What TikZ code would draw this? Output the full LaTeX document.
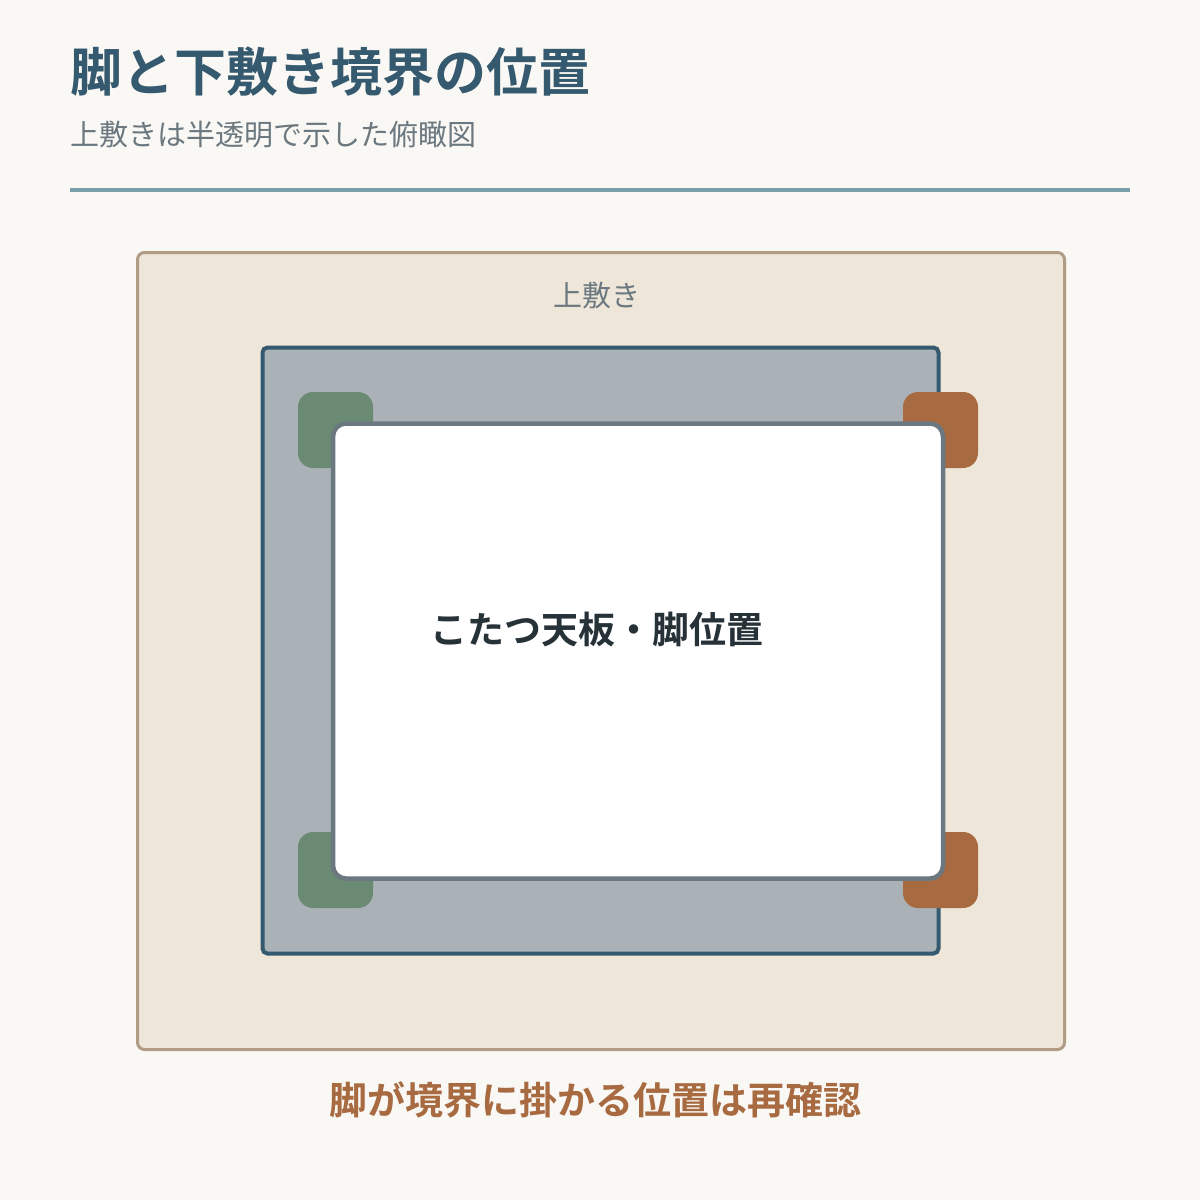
\documentclass[tikz,border=0pt]{standalone}
\usepackage{fontspec}
\setmainfont{Noto Sans CJK JP}
\newfontfamily\jpbold{Noto Sans CJK JP Bold}
\definecolor{pagebg}{HTML}{FAF8F4}
\definecolor{titleblue}{HTML}{35596E}
\definecolor{subgray}{HTML}{6B7880}
\definecolor{rulecol}{HTML}{7A9EAA}
\definecolor{upperfill}{HTML}{EFE6DA}
\definecolor{upperline}{HTML}{B09C85}
\definecolor{lowerfill}{HTML}{AAB2B8}
\definecolor{leggreen}{HTML}{6B8A73}
\definecolor{legorange}{HTML}{A86A40}
\definecolor{textdark}{HTML}{263238}
\begin{document}
\begin{tikzpicture}[
    x = 1pt, y = -1pt,
    sheet/.style = {
        draw,
        rectangle,
        inner sep = 0pt,
        outer sep = 0pt,
        anchor = north west
    },
    uppersheet/.style = {sheet, fill = upperfill, draw = upperline, line width = 3pt, rounded corners = 7pt},
    lowersheet/.style = {sheet, fill = lowerfill, draw = titleblue, line width = 4pt, rounded corners = 5pt},
    leg/.style = {sheet, draw = none, minimum width = 75pt, minimum height = 76pt, rounded corners = 15pt},
    leggreen/.style = {leg, fill = leggreen},
    legorange/.style = {leg, fill = legorange},
    tabletop/.style = {sheet, fill = white, draw = subgray, line width = 4.5pt, rounded corners = 13pt},
    label/.style = {
        inner sep = 0pt,
        align = center
    }
]

% page and margins
\fill[pagebg] (0, 0) rectangle (1200, 1200);
\useasboundingbox (0, 0) rectangle (1200, 1200);

% Heading
\node[label, anchor = base west, text = titleblue] (title) at (70, 91) {
    \jpbold\fontsize{52}{60}\selectfont 脚と下敷き境界の位置
};
\node[label, anchor = base west, text = subgray] (subtitle) at (70, 145) {
    \fontsize{29}{35}\selectfont 上敷きは半透明で示した俯瞰図
};
\coordinate (rule west) at (70, 190);
\coordinate (rule east) at (1130, 190);
\draw[rulecol, line width = 4.5pt] (rule west) -- (rule east);

% Upper sheet
\node[uppersheet, minimum width = 927pt, minimum height = 797pt] (upper) at (137.5, 252.5) {};
\node[label, text = subgray] (upper label) at (600, 295) {
    \fontsize{29}{35}\selectfont 上敷き
};

% Lower sheet
\node[lowersheet, minimum width = 676pt, minimum height = 606pt] (lower) at (262.5, 347.5) {};

% Legs
\node[leggreen] (leg nw) at (298, 392) {};
\node[leggreen] (leg sw) at (298, 832) {};
\node[legorange] (leg ne) at (903, 392) {};
\node[legorange] (leg se) at (903, 832) {};

% Table top
\node[tabletop, minimum width = 610pt, minimum height = 455pt] (table) at (333, 423.5) {};
\node[label, text = textdark] (table label) at (601, 630) {
    \jpbold\fontsize{37}{43}\selectfont こたつ天板・脚位置
};

% Note
\node[label, text = legorange] (note) at (600, 1100) {
    \jpbold\fontsize{38}{45}\selectfont 脚が境界に掛かる位置は再確認
};

\end{tikzpicture}
\end{document}
